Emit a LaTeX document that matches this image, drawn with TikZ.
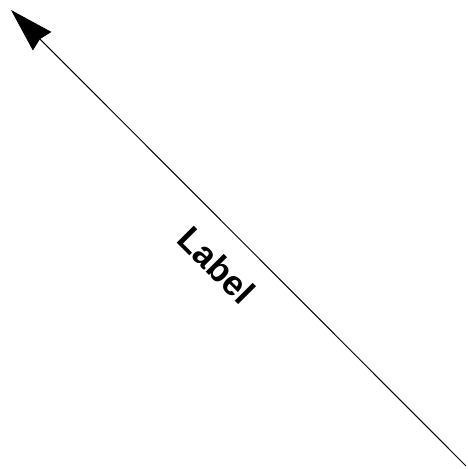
\documentclass[tikz,border=0pt]{standalone}
\usepackage{fontspec}
\setmainfont{Liberation Sans}
\usetikzlibrary{arrows.meta}
\tikzset{
	link/.style={
			draw=black,
			line width=1pt,
			-{Stealth[length=44pt, width=26pt, inset=3pt]}
		},
	linklabel/.style={
			font=\bfseries\fontsize{35}{42}\selectfont,
			text=black,
			inner sep=2pt
		}
}
\begin{document}
\begin{tikzpicture}[x=1pt, y=1pt]
	\useasboundingbox (0,0) rectangle (467,469);
	\coordinate (tail) at (466,3);
	\coordinate (head) at (11,459);
	\draw[link] (tail) -- node[linklabel, pos=0.494, sloped, below=19pt] {Label} (head);
\end{tikzpicture}
\end{document}
